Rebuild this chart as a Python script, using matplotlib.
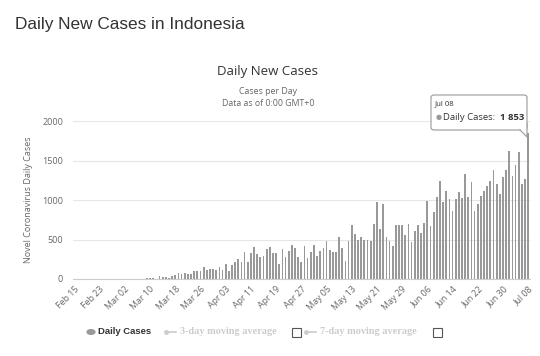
import numpy as np
import pandas as pd
import matplotlib.pyplot as plt
from matplotlib.patches import FancyBboxPatch, Polygon, Circle, Rectangle
from matplotlib.lines import Line2D

# daily new cases, Feb 15 - Jul 08 2020
feb = [0, 0, 0, 0, 0, 0, 0, 0, 0, 0, 0, 0, 0, 0, 0]
mar = [0, 2, 0, 0, 0, 2, 0, 2, 13, 8, 7, 0, 35, 27, 21, 17, 38, 55, 82, 60,
       81, 64, 65, 107, 104, 103, 153, 109, 130, 129, 114]
apr = [149, 113, 196, 106, 181, 218, 247, 218, 337, 219, 330, 399, 316, 282, 297,
       380, 407, 325, 327, 185, 375, 283, 357, 436, 396, 275, 214, 415, 260, 347]
may = [433, 292, 349, 395, 484, 367, 338, 336, 533, 387, 233, 484, 689, 568, 490,
       529, 489, 496, 486, 693, 973, 634, 949, 526, 479, 415, 686, 687, 678, 557, 700]
jun = [467, 609, 684, 585, 703, 993, 672, 847, 1043, 1240, 979, 1111, 1014, 857, 1017,
       1106, 1031, 1331, 1041, 1226, 862, 954, 1051, 1113, 1178, 1240, 1385, 1198, 1082, 1293]
jul = [1385, 1624, 1301, 1447, 1607, 1209, 1268, 1853]

cases = feb + mar + apr + may + jun + jul
dates = pd.date_range("2020-02-15", periods=len(cases), freq="D")
labels = [d.strftime("%b %d") for d in dates]
yticks = [0, 500, 1000, 1500, 2000]

dark = "#333333"
grey = "#666666"
bar_c = "#999999"

fig = plt.figure(figsize=(5.4, 3.56), dpi=100)
fig.patch.set_facecolor("white")

ax = fig.add_axes([0.135, 0.2163, 0.846, 0.4437])
x = np.arange(len(cases))
ax.bar(x, cases, width=0.55, color=bar_c, zorder=2)
ax.set_xlim(-0.5, len(cases) - 0.5)
ax.set_ylim(0, 2000)
ax.set_yticks(yticks)
ax.set_yticklabels([str(v) for v in yticks], fontsize=6.5, color=grey, family="Open Sans")
ax.grid(axis="y", color="#e6e6e6", linewidth=0.8, zorder=0)
for s in ["top", "right", "left"]:
    ax.spines[s].set_visible(False)
ax.spines["bottom"].set_color("#cccccc")
ax.spines["bottom"].set_linewidth(0.8)
ax.tick_params(axis="y", length=0, pad=7)
ax.tick_params(axis="x", length=0, pad=4)
ax.set_xticks(x[::8])
ax.set_xticklabels(labels[::8], rotation=45, ha="right", va="top",
                   rotation_mode="anchor", fontsize=6.4, color=grey, family="Open Sans")
ax.set_ylabel("Novel Coronavirus Daily Cases", fontsize=6.5, color=grey, family="Open Sans")
ax.yaxis.set_label_coords(-0.087, 0.5)

# titles
fig.text(0.028, 0.93, "Daily New Cases in Indonesia", fontsize=12.4, color=dark,
         family="Liberation Sans", va="center")
fig.text(0.496, 0.80, "Daily New Cases", fontsize=9.5, color=dark,
         family="Open Sans", ha="center", va="center")
fig.text(0.496, 0.742, "Cases per Day", fontsize=6.3, color=grey,
         family="Open Sans", ha="center", va="center")
fig.text(0.496, 0.708, "Data as of 0:00 GMT+0", fontsize=6.3, color=grey,
         family="Open Sans", ha="center", va="center")

# tooltip
W, H = 540.0, 356.0
box = FancyBboxPatch((431 / W, 1 - 130 / H), 96 / W, 35 / H,
                     boxstyle="round,pad=0,rounding_size=0.006",
                     transform=fig.transFigure, facecolor="white",
                     edgecolor="#999999", linewidth=0.8, zorder=5)
fig.patches.append(box)
ptr = Polygon([(520 / W, 1 - 130 / H), (527 / W, 1 - 137 / H), (527 / W, 1 - 124 / H)],
              closed=True, transform=fig.transFigure, facecolor="white",
              edgecolor="none", zorder=6)
fig.patches.append(ptr)
fig.lines.append(Line2D([520 / W, 527 / W, 527 / W], [1 - 130 / H, 1 - 137 / H, 1 - 124 / H],
                        transform=fig.transFigure, color="#999999", linewidth=0.8, zorder=7))
fig.text(435 / W, 1 - 104 / H, "Jul 08", fontsize=5.6, color=dark,
         family="Open Sans", va="center", zorder=8)
fig.text(436 / W, 1 - 117 / H, "\u25cf", fontsize=5, color=bar_c, va="center", zorder=8)
fig.text(443 / W, 1 - 117 / H, "Daily Cases: ", fontsize=6.8, color=dark,
         family="Open Sans", va="center", zorder=8)
fig.text(524 / W, 1 - 117 / H, "1 853", fontsize=6.8, color=dark, fontweight="bold",
         family="Open Sans", va="center", ha="right", zorder=8)

# legend
ly = 1 - 332 / H
fig.patches.append(Circle((91 / W, ly), 4.6 / W, transform=fig.transFigure,
                          facecolor=bar_c, edgecolor="none"))
fig.text(98 / W, ly, "Daily Cases", fontsize=6.8, color=dark, fontweight="bold",
         family="Liberation Sans", va="center")
light = "#cccccc"
for x0, x1, txt in [(166, 180, "3-day moving average"), (306, 320, "7-day moving average")]:
    fig.lines.append(Line2D([x0 / W, (x0 + 10) / W], [ly, ly], transform=fig.transFigure,
                            color=light, linewidth=1.2, marker="o", markersize=2.5,
                            markevery=[0], markeredgecolor=light))
    fig.text(x1 / W, ly, txt, fontsize=7.4, color=light, fontweight="bold",
             family="Liberation Serif", va="center")
for bx in [292, 433]:
    fig.patches.append(Rectangle((bx / W, ly - 4.5 / H), 9 / W, 9 / H,
                                 transform=fig.transFigure, facecolor="white",
                                 edgecolor="#555555", linewidth=0.8))

fig.savefig("out.png", dpi=100, facecolor="white")
